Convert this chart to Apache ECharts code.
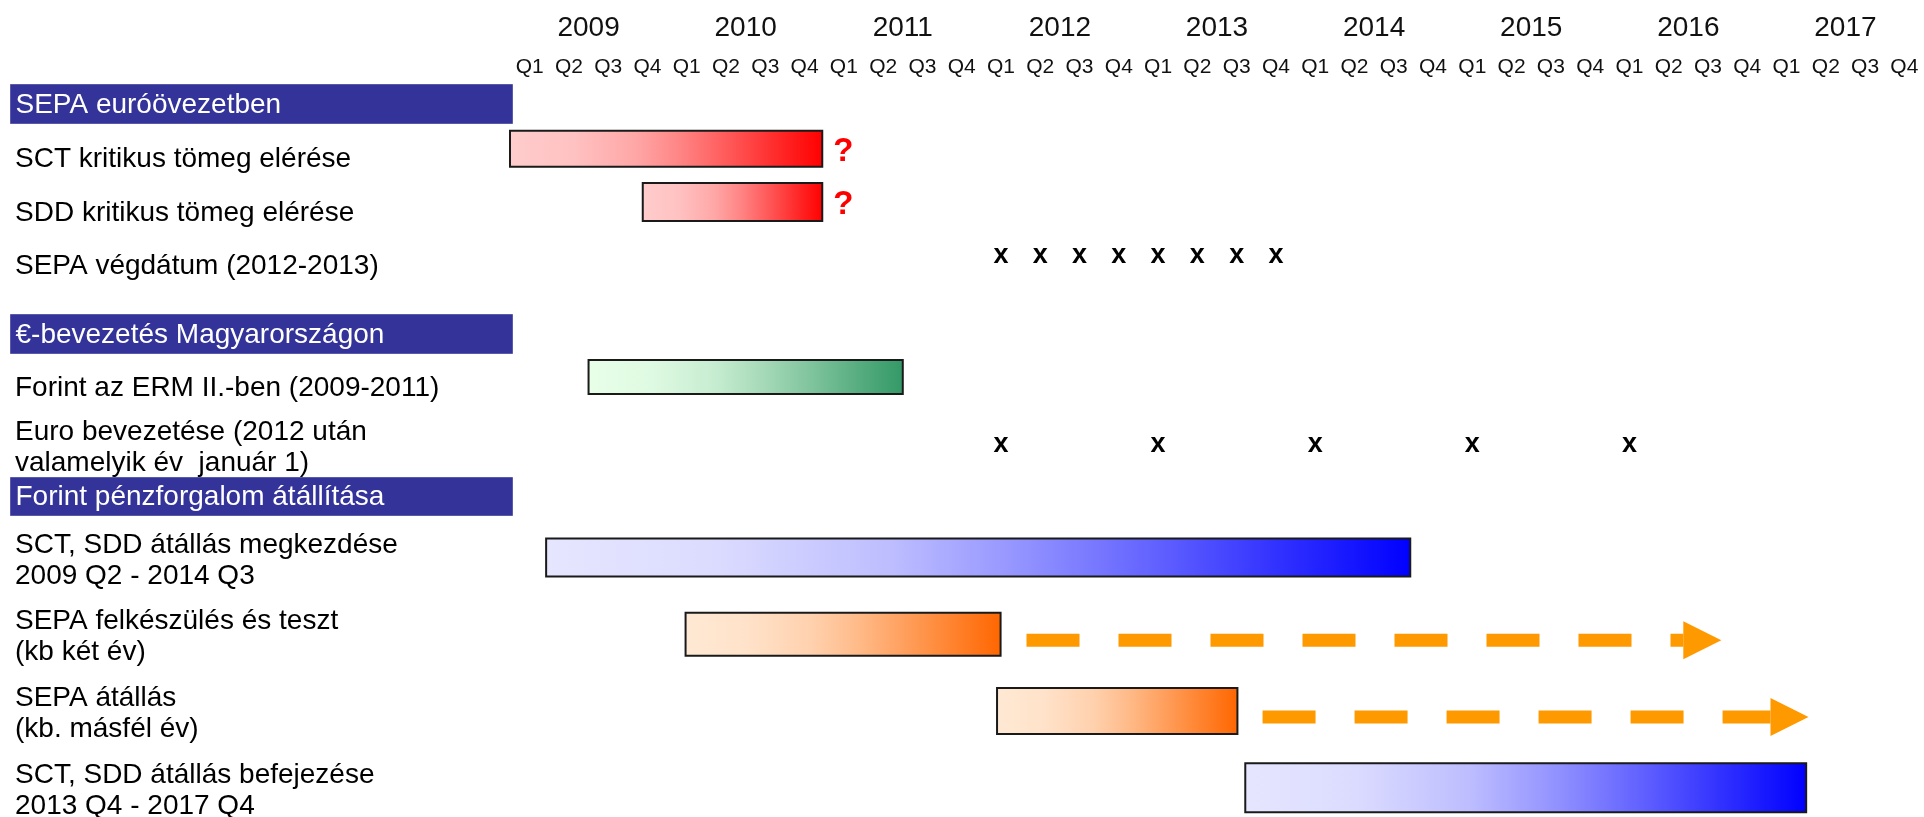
<!DOCTYPE html>
<html>
<head>
<meta charset="utf-8">
<script src="https://cdn.jsdelivr.net/npm/echarts@6/dist/echarts.min.js"></script>
<style>
html,body{margin:0;padding:0;background:#fff;overflow:hidden;}
#chart{width:1924px;height:832px;}
</style>
</head>
<body>
<div id="chart"></div>
<script>
// ---------- DATA ----------
const years = ['2009','2010','2011','2012','2013','2014','2015','2016','2017'];
const quarterNames = ['Q1','Q2','Q3','Q4'];
const quarterLabels = years.flatMap(() => quarterNames);

const headers = ['SEPA euróövezetben', '€-bevezetés Magyarországon', 'Forint pénzforgalom átállítása'];

const rows1 = ['SCT kritikus tömeg elérése', 'SDD kritikus tömeg elérése', 'SEPA végdátum (2012-2013)'];
const rows2 = ['Forint az ERM II.-ben (2009-2011)', 'Euro bevezetése (2012 után\nvalamelyik év  január 1)'];
const rows3 = ['SCT, SDD átállás megkezdése\n2009 Q2 - 2014 Q3', 'SEPA felkészülés és teszt\n(kb két év)', 'SEPA átállás\n(kb. másfél év)', 'SCT, SDD átállás befejezése\n2013 Q4 - 2017 Q4'];

// bars: start / end in quarters since 2009 Q1
const bars1Row = [0, 1];
const bars1Start = [0, 3.38];
const bars1End = [7.95, 7.95];
const bars1Note = ['?', '?'];

const marks1Row = 2;
const marks1 = [12.5, 13.5, 14.5, 15.5, 16.5, 17.5, 18.5, 19.5];

const bars2Row = [0];
const bars2Start = [2];
const bars2End = [10];

const marks2Row = 1;
const marks2 = [12.5, 16.5, 20.5, 24.5, 28.5];

const bars3Row = [0, 1, 2, 3];
const bars3Start = [0.92, 4.47, 12.4, 18.72];
const bars3End = [22.92, 12.49, 18.52, 33.0];

const arrows3Row = [1, 2];
const arrows3Start = [13.15, 19.16];
const arrows3End = [30.84, 33.06];

// ---------- STYLE ----------
const FONT = '"Liberation Sans", Arial, sans-serif';
const RED = ['#FFCCCC', '#FF0000'];
const GREEN = ['#E8FFE8', '#339966'];
const BLUE = ['#E6E6FF', '#0000FF'];
const ORANGE = ['#FFE9D4', '#FF6600'];
const bars1Style = [{c: RED, h: 36}, {c: RED, h: 38}];
const bars2Style = [{c: GREEN, h: 34}];
const bars3Style = [{c: BLUE, h: 38}, {c: ORANGE, h: 43}, {c: ORANGE, h: 46}, {c: BLUE, h: 49}];
// gradient easing (position, amount of dark colour)
const EASE = [[0, 0], [0.2, 0.05], [0.4, 0.18], [0.55, 0.36], [0.7, 0.57], [0.85, 0.79], [1, 1]];

function zip3(a, b, c) { return a.map((v, i) => [v, b[i], c[i]]); }

function hex(c) { return [parseInt(c.substr(1, 2), 16), parseInt(c.substr(3, 2), 16), parseInt(c.substr(5, 2), 16)]; }
function mix(c0, c1, t) {
  const a = hex(c0), b = hex(c1);
  return 'rgb(' + a.map((v, k) => Math.round(v + (b[k] - v) * t)).join(',') + ')';
}
function gradient(c) {
  return new echarts.graphic.LinearGradient(0, 0, 1, 0,
    EASE.map(s => ({offset: s[0], color: mix(c[0], c[1], s[1])})));
}

function barSeries(gridIdx, data, styles, notes) {
  return {
    type: 'custom',
    xAxisIndex: gridIdx + 1,
    yAxisIndex: gridIdx,
    data: data,
    encode: {x: [0, 1], y: 2},
    renderItem: function (params, api) {
      const i = params.dataIndex;
      const p0 = api.coord([api.value(0), api.value(2)]);
      const p1 = api.coord([api.value(1), api.value(2)]);
      const h = styles[i].h;
      const children = [{
        type: 'rect',
        shape: {x: p0[0], y: p0[1] - h / 2, width: p1[0] - p0[0], height: h},
        style: {fill: gradient(styles[i].c), stroke: '#1a1a1a', lineWidth: 2}
      }];
      if (notes && notes[i]) {
        children.push({
          type: 'text',
          x: p1[0] + 11, y: p0[1] + 3,
          style: {text: notes[i], fill: '#FF0000', font: 'bold 33px ' + FONT, textAlign: 'left', textVerticalAlign: 'middle'}
        });
      }
      return {type: 'group', children: children};
    }
  };
}

function markSeries(gridIdx, xs, row) {
  return {
    type: 'custom',
    xAxisIndex: gridIdx + 1,
    yAxisIndex: gridIdx,
    data: xs.map(x => [x, row]),
    encode: {x: 0, y: 1},
    renderItem: function (params, api) {
      const p = api.coord([api.value(0), api.value(1)]);
      return {
        type: 'text', x: p[0], y: p[1],
        style: {text: 'x', fill: '#000', font: 'bold 27px ' + FONT, textAlign: 'center', textVerticalAlign: 'middle'}
      };
    }
  };
}

function arrowSeries(gridIdx, data) {
  return {
    type: 'custom',
    xAxisIndex: gridIdx + 1,
    yAxisIndex: gridIdx,
    data: data,
    encode: {x: [0, 1], y: 2},
    renderItem: function (params, api) {
      const p0 = api.coord([api.value(0), api.value(2)]);
      const p1 = api.coord([api.value(1), api.value(2)]);
      const y = p0[1] + 6;
      const headL = 38, headH = 38;
      return {
        type: 'group',
        children: [
          {type: 'line', shape: {x1: p0[0], y1: y, x2: p1[0] - headL, y2: y},
           style: {stroke: '#FF9900', lineWidth: 13, lineDash: [53, 39], lineCap: 'butt'}},
          {type: 'polygon', shape: {points: [[p1[0] - headL, y - headH / 2], [p1[0], y], [p1[0] - headL, y + headH / 2]]},
           style: {fill: '#FF9900'}}
        ]
      };
    }
  };
}

function catAxis(gridIdx, rows) {
  return {
    type: 'category', gridIndex: gridIdx, data: rows, inverse: true,
    axisLine: {show: false}, axisTick: {show: false}, splitLine: {show: false},
    axisLabel: {
      interval: 0, align: 'left', margin: 495, color: '#000',
      fontFamily: FONT, fontSize: 28,
      formatter: function (v) {
        if (v.indexOf('\n') >= 0) {
          const parts = v.split('\n');
          return '{f|' + parts[0] + '}\n{m|' + parts[1] + '}';
        }
        return '{s|' + v + '}';
      },
      rich: {
        s: {fontFamily: FONT, fontSize: 28, color: '#000', padding: [22, 0, 0, 0]},
        f: {fontFamily: FONT, fontSize: 28, color: '#000', lineHeight: 37, padding: [12, 0, 0, 0]},
        m: {fontFamily: FONT, fontSize: 28, color: '#000', lineHeight: 37}
      }
    }
  };
}

function valAxis(gridIdx) {
  return {type: 'value', gridIndex: gridIdx, min: 0, max: 36, show: false};
}

const headerTops = [84, 314, 477];
const headerHeights = [39, 39, 38];

const option = {
  animation: false,
  backgroundColor: '#fff',
  grid: [
    {left: 510, right: 0, top: 46, height: 2},
    {left: 510, right: 0, top: 122, height: 160},
    {left: 510, right: 0, top: 343, height: 136},
    {left: 510, right: 0, top: 519, height: 307}
  ],
  xAxis: [
    {type: 'category', gridIndex: 0, position: 'top', data: years,
     axisLine: {show: false}, axisTick: {show: false},
     axisLabel: {interval: 0, margin: 4, fontSize: 28, fontFamily: FONT, color: '#111'}},
    {type: 'category', gridIndex: 0, position: 'bottom', data: quarterLabels,
     axisLine: {show: false}, axisTick: {show: false},
     axisLabel: {interval: 0, margin: 9, fontSize: 21, fontFamily: FONT, color: '#111'}},
    valAxis(1), valAxis(2), valAxis(3)
  ],
  yAxis: [
    {type: 'value', gridIndex: 0, show: false},
    catAxis(1, rows1), catAxis(2, rows2), catAxis(3, rows3)
  ],
  graphic: headers.map((h, i) => ({
    type: 'group', left: 10, top: headerTops[i],
    children: [
      {type: 'rect', shape: {x: 0, y: 0, width: 502, height: headerHeights[i]},
       style: {fill: '#333399', stroke: '#5a5aaa', lineWidth: 1}},
      {type: 'text', x: 5, y: headerHeights[i] / 2 + 1,
       style: {text: h, fill: '#fff', font: '28px ' + FONT, textVerticalAlign: 'middle'}}
    ]
  })),
  series: [
    barSeries(1, zip3(bars1Start, bars1End, bars1Row), bars1Style, bars1Note),
    markSeries(1, marks1, marks1Row),
    barSeries(2, zip3(bars2Start, bars2End, bars2Row), bars2Style, null),
    markSeries(2, marks2, marks2Row),
    barSeries(3, zip3(bars3Start, bars3End, bars3Row), bars3Style, null),
    arrowSeries(3, zip3(arrows3Start, arrows3End, arrows3Row))
  ]
};

const chart = echarts.init(document.getElementById('chart'));
chart.setOption(option);
</script>
</body>
</html>
